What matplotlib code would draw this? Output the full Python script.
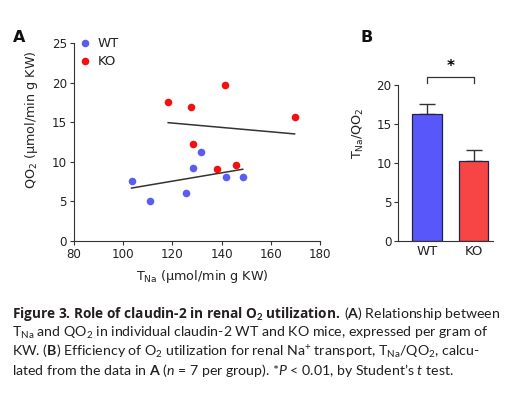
import numpy as np
import matplotlib
matplotlib.use('Agg')
from matplotlib import pyplot as plt

# panel A: T_Na vs QO2 per mouse
wt_tna = [103.4, 110.9, 125.5, 128.5, 131.8, 141.9, 148.6]
wt_qo2 = [7.6, 5.1, 6.1, 9.25, 11.3, 8.1, 8.1]
ko_tna = [118.3, 127.4, 128.5, 138.1, 141.2, 145.7, 169.7]
ko_qo2 = [17.5, 16.9, 12.2, 9.1, 19.7, 9.6, 15.7]

# panel B: T_Na/QO2 mean + SEM
groups = ['WT', 'KO']
ratio_mean = [16.3, 10.3]
ratio_sem = [1.35, 1.35]

blue_pt = '#5c5cf2'
red_pt = '#f21010'
blue_bar = '#5757fa'
red_bar = '#f74444'
ink = '#222222'

plt.rcParams['font.family'] = ['DejaVu Sans']
plt.rcParams['mathtext.fontset'] = 'dejavusans'

fig = plt.figure(figsize=(5.16, 3.96), dpi=100)

# ---- panel A
ax = fig.add_axes([0.1434, 0.3914, 0.4766, 0.5])
ax.scatter(wt_tna, wt_qo2, s=30, color=blue_pt, zorder=3, linewidths=0)
ax.scatter(ko_tna, ko_qo2, s=30, color=red_pt, zorder=3, linewidths=0)
for xs, ys in [(wt_tna, wt_qo2), (ko_tna, ko_qo2)]:
    k, b = np.polyfit(xs, ys, 1)
    xx = np.array([min(xs), max(xs)])
    ax.plot(xx, k * xx + b, color='#333333', lw=1.1, zorder=2)
ax.set_xlim(80, 180)
ax.set_ylim(0, 25)
ax.set_xticks([80, 100, 120, 140, 160, 180])
ax.set_yticks([0, 5, 10, 15, 20, 25])
for s in ['top', 'right']:
    ax.spines[s].set_visible(False)
for s in ['left', 'bottom']:
    ax.spines[s].set_linewidth(0.8)
    ax.spines[s].set_color('#333333')
ax.tick_params(labelsize=8.6, length=3, width=0.8, color='#333333', labelcolor=ink, pad=2)
ax.set_ylabel('QO$_2$ (μmol/min g KW)', fontsize=9.2, color=ink)
ax.yaxis.set_label_coords(-0.14, 0.61)
ax.set_xlabel('T$_{\\mathrm{Na}}$ (μmol/min g KW)', fontsize=9.2, color=ink)
ax.xaxis.set_label_coords(0.52, -0.135)

# legend drawn by hand as in the figure
ax.scatter([84.5], [25.0], s=30, color=blue_pt, clip_on=False, linewidths=0)
ax.scatter([84.5], [22.7], s=30, color=red_pt, clip_on=False, linewidths=0)
ax.text(89.5, 25.0, 'WT', fontsize=9.5, va='center', color=ink)
ax.text(89.5, 22.7, 'KO', fontsize=9.5, va='center', color=ink)

fig.text(0.026, 0.893, 'A', fontsize=11.5, fontweight='bold', color='#111111')
fig.text(0.699, 0.893, 'B', fontsize=11.5, fontweight='bold', color='#111111')

# ---- panel B
bx = fig.add_axes([0.772, 0.3914, 0.183, 0.3932])
xpos = np.arange(len(groups))
bx.bar(xpos, ratio_mean, width=0.65, color=[blue_bar, red_bar], edgecolor='#222244', linewidth=0.9, zorder=2)
bx.errorbar(xpos, ratio_mean, yerr=[[0, 0], ratio_sem], fmt='none', ecolor='#333333', elinewidth=1, capsize=5.5, capthick=1, zorder=1)
bx.set_xlim(-0.632, 1.418)
bx.set_ylim(0, 20)
bx.set_yticks([0, 5, 10, 15, 20])
bx.set_xticks(xpos)
bx.set_xticklabels(groups)
for s in ['top', 'right']:
    bx.spines[s].set_visible(False)
for s in ['left', 'bottom']:
    bx.spines[s].set_linewidth(0.8)
    bx.spines[s].set_color('#333333')
bx.tick_params(axis='y', labelsize=8.6, length=3, width=0.8, color='#333333', labelcolor=ink, pad=2)
bx.tick_params(axis='x', labelsize=9.5, length=0, labelcolor=ink, pad=3)
bx.set_ylabel('T$_{\\mathrm{Na}}$/QO$_2$', fontsize=9.2, color=ink)
bx.yaxis.set_label_coords(-0.34, 0.69)

# significance bracket
bx.plot([0, 0, 1, 1], [20.25, 21.05, 21.05, 20.25], color='#333333', lw=0.9, clip_on=False)
bx.text(0.5, 21.4, '*', ha='center', va='bottom', fontsize=11, fontweight='bold')

# ---- caption
plt.rcParams['mathtext.fontset'] = 'custom'
plt.rcParams['mathtext.rm'] = 'Lato'
plt.rcParams['mathtext.it'] = 'Lato:italic'
plt.rcParams['mathtext.bf'] = 'Lato:bold'
cap = dict(fontsize=10.2, family=['Lato', 'DejaVu Sans'], color='#231f20')

x0 = 12 / 516
lines_y = [1 - 318 / 396, 1 - 337 / 396, 1 - 356 / 396, 1 - 375 / 396]

t1 = fig.text(x0, lines_y[0], 'Figure 3. Role of claudin-2 in renal O$_\\mathbf{2}$ utilization.',
              fontweight='bold', fontsize=9.85, family=['Open Sans', 'DejaVu Sans'],
              color='#231f20')
fig.canvas.draw()
ext = t1.get_window_extent()
fig.text(ext.x1 / fig.bbox.width + 0.006, lines_y[0],
         '($\\mathbf{A}$) Relationship between', **cap)
fig.text(x0, lines_y[1], 'T$_{\\mathrm{Na}}$ and QO$_2$ in individual claudin-2 WT and KO mice, expressed per gram of', **cap)
fig.text(x0, lines_y[2], 'KW. ($\\mathbf{B}$) Efficiency of O$_2$ utilization for renal Na$^{+}$ transport, T$_{\\mathrm{Na}}$/QO$_2$, calcu-', **cap)
fig.text(x0, lines_y[3], 'lated from the data in $\\mathbf{A}$ ($n$ = 7 per group). *$P$ < 0.01, by Student\u2019s $t$ test.', **cap)

fig.savefig('out.png', dpi=100)
